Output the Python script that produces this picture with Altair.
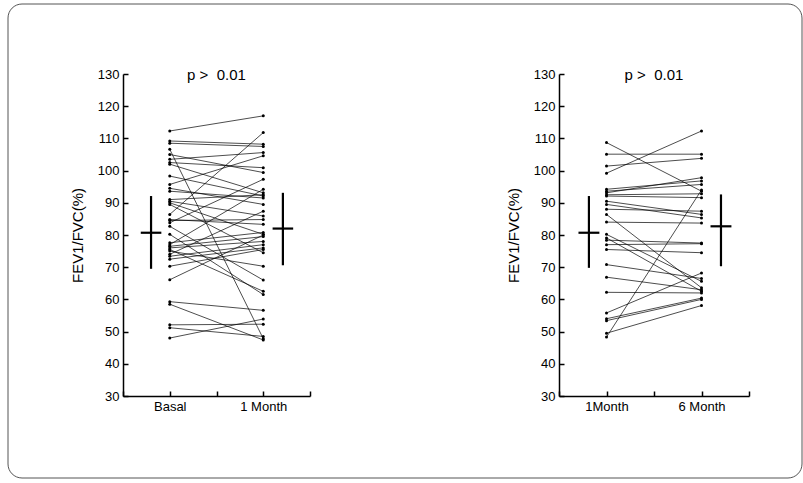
import altair as alt
import pandas as pd

# ---- Data ----
basal = [112.3, 109.2, 108.5, 106.6, 105.0, 103.5, 102.5, 102.0, 98.3, 95.7,
         94.5, 93.6, 91.0, 90.5, 90.0, 89.5, 86.4, 84.8, 84.5, 83.8,
         82.7, 80.2, 77.6, 77.0, 76.5, 76.0, 75.5, 75.0, 74.0, 73.4,
         72.5, 70.3, 66.1, 59.3, 58.5, 52.1, 51.2, 48.0]
one_month = [117.0, 108.2, 107.5, 47.8, 99.4, 105.6, 100.9, 93.1, 92.1, 104.6,
             89.5, 91.5, 92.5, 85.9, 80.2, 74.5, 111.8, 83.3, 84.8, 97.3,
             66.0, 61.5, 80.8, 94.2, 79.5, 78.0, 62.5, 70.3, 87.4, 77.0,
             76.0, 75.5, 80.0, 56.6, 47.4, 52.3, 48.5, 53.9]

one_month_b = [108.7, 105.1, 101.4, 99.2, 94.2, 93.6, 93.1, 92.5, 92.1, 90.5,
               89.5, 88.0, 86.4, 84.0, 80.2, 79.1, 78.4, 77.0, 75.5, 70.8,
               66.9, 62.2, 55.8, 54.0, 53.4, 49.5, 48.3]
six_month = [93.6, 105.1, 103.8, 112.3, 96.8, 95.7, 97.8, 92.8, 91.6, 86.4,
             85.3, 87.4, 63.6, 83.7, 65.6, 62.5, 77.5, 77.3, 74.5, 66.5,
             63.0, 62.0, 68.2, 60.4, 60.0, 58.1, 94.0]

# mean +/- SD markers: [x position, mean, low, high]
left_stats = [[0.60, 80.7, 69.5, 92.1], [3.42, 82.0, 70.6, 93.1]]
right_stats = [[0.63, 80.7, 69.8, 92.1], [3.41, 82.7, 70.3, 92.6]]

y_ticks = [30, 40, 50, 60, 70, 80, 90, 100, 110, 120, 130]
x_ticks = [0, 1, 2, 3, 4]
p_text = "p >\u00a0 0.01"
y_title = "FEV1/FVC(%)"
FONT = "Liberation Sans"


def panel(a, b, lab1, lab3, stats, w, frame=False):
    rows = []
    for i, (u, v) in enumerate(zip(a, b)):
        rows.append({"id": i, "x": 1, "v": u})
        rows.append({"id": i, "x": 3, "v": v})
    df = pd.DataFrame(rows)
    vdf = pd.DataFrame([{"x": s[0], "v": s[2], "v2": s[3]} for s in stats])
    hdf = pd.DataFrame([{"x": s[0] - 0.22, "x2": s[0] + 0.22, "v": s[1]} for s in stats])
    tdf = pd.DataFrame({"t": [p_text], "x": [2], "v": [130]})

    xax = alt.Axis(values=x_ticks, title=None, labelOverlap=False,
                   labelExpr=f"datum.value == 1 ? '{lab1}' : datum.value == 3 ? '{lab3}' : ''",
                   tickSize={"expr": "-5"}, labelPadding=9)
    yax = alt.Axis(values=y_ticks, title=y_title, labelOverlap=False,
                   tickSize={"expr": "-5"}, labelPadding=9, titlePadding=12)
    xs = alt.X("x:Q", scale=alt.Scale(domain=[0, 4], nice=False), axis=xax, title=None)
    ys = alt.Y("v:Q", scale=alt.Scale(domain=[30, 130], nice=False), axis=yax, title=y_title)

    lines = alt.Chart(df).mark_line(color="black", strokeWidth=0.7).encode(
        x=xs, y=ys, detail="id:N")
    pts = alt.Chart(df).mark_circle(color="black", size=9, opacity=1).encode(x=xs, y=ys)
    vr = alt.Chart(vdf).mark_rule(color="black", strokeWidth=2.2).encode(
        x=xs, y=ys, y2="v2:Q")
    hr = alt.Chart(hdf).mark_rule(color="black", strokeWidth=2.2).encode(
        x=xs, x2="x2:Q", y=ys)
    tt = alt.Chart(tdf).mark_text(
        font=FONT, fontSize=15, color="black", baseline="alphabetic", align="center", dy=6
    ).encode(x=xs, y=ys, text="t:N")
    layers = [lines, pts, vr, hr, tt]
    if frame:
        fr = alt.Chart(alt.Data(values=[{"k": 1}])).mark_rect(
            filled=False, stroke="#555", strokeWidth=1, cornerRadius=14).encode(
            x=alt.value(-115), x2=alt.value(679), y=alt.value(-70), y2=alt.value(404))
        layers = [fr] + layers
    return alt.layer(*layers).properties(width=w, height=322)


left = panel(basal, one_month, "Basal", "1 Month", left_stats, 187, frame=True)
right = panel(one_month_b, six_month, "1Month", "6 Month", right_stats, 190)

chart = alt.hconcat(left, right, spacing=249, bounds="flush").properties(
    padding={"left": 7, "top": 3, "right": 0, "bottom": 3}
).configure_view(stroke=None).configure_axis(
    grid=False, domainColor="black", domainWidth=1.5, tickColor="black", tickWidth=1.5,
    labelFont=FONT, labelFontSize=13, labelColor="black", labelOverlap=False,
    titleFont=FONT, titleFontSize=15, titleFontWeight="normal", titleColor="black"
)

chart.save("out.html", embed_options={"renderer": "svg", "actions": False})
